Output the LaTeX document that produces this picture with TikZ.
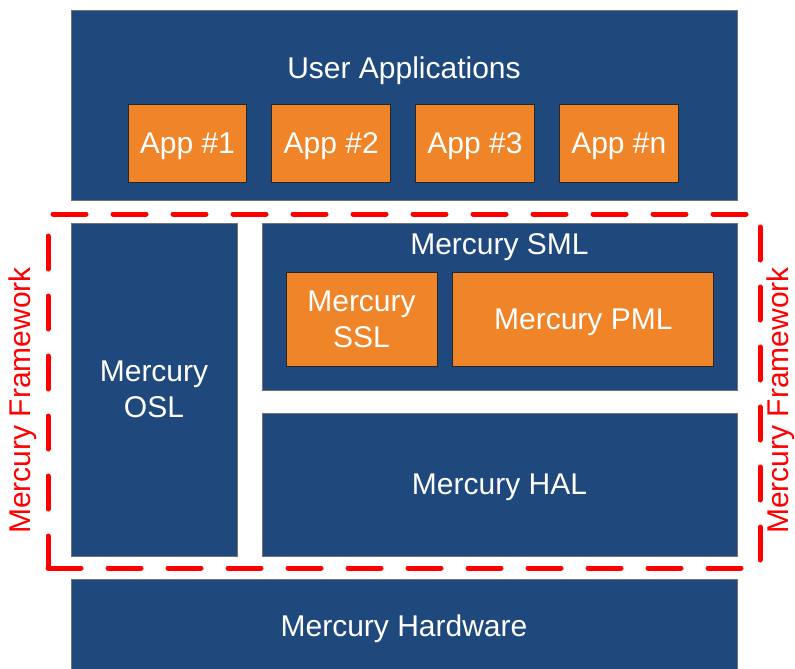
\documentclass[tikz,border=0pt]{standalone}
\usepackage{fontspec}
\setmainfont{Liberation Sans}
\usetikzlibrary{positioning}
\definecolor{navy}{RGB}{31,73,125}
\definecolor{tangerine}{RGB}{240,132,40}

\begin{document}
\begin{tikzpicture}[x=0.75pt,y=-0.75pt,% one unit is one pixel of the layout, y grows downwards
			every node/.style={
				align=center,		% so that "\\" breaks the line
				inner sep=0pt,
				font=\fontsize{22.5}{27}\selectfont
			},
			layer/.style={rectangle,draw=black!55,line width=0.6pt,fill=navy,text=white},
			module/.style={rectangle,draw=black!85,line width=0.6pt,fill=tangerine,text=white},
			oneline/.style={text depth=0pt},	% sit single lines a bit lower
			title/.style={text=white,oneline},
			border/.style={rectangle,draw=red,line width=3.75pt,line cap=round,dash pattern=on 24.75pt off 20.25pt},
			side/.style={text=red,rotate=90}
		]
		\useasboundingbox (0,0) rectangle (795,668);
		% user applications
		\node[layer,minimum width=499.5pt,minimum height=142.5pt](B1) at (404,105) {};
		\node[title](T1) at (404,68) {User Applications};
		\node[module,oneline,minimum width=89pt,minimum height=58.5pt](A1) at (187.4,143) {App \#1};
		\node[module,oneline,minimum width=89pt,minimum height=58.5pt](A2)[right=18.25pt of A1]{App \#2};
		\node[module,oneline,minimum width=89pt,minimum height=58.5pt](A3)[right=18.25pt of A2]{App \#3};
		\node[module,oneline,minimum width=89pt,minimum height=58.5pt](A4)[right=18.25pt of A3]{App \#n};
		% framework
		\node[layer,minimum width=124.5pt,minimum height=249.75pt](B2) at (154,389.5) {Mercury\\ OSL};
		\node[layer,minimum width=356.25pt,minimum height=125.25pt](B3) at (499.5,306.5) {};
		\node[title](T2) at (499.5,244) {Mercury SML};
		\node[module,minimum width=113.25pt,minimum height=70.5pt](C1) at (361.5,319) {Mercury\\ SSL};
		\node[module,oneline,minimum width=195.75pt,minimum height=70.5pt](C2)[right=11.25pt of C1]{Mercury PML};
		\node[layer,oneline,minimum width=356.25pt,minimum height=107.25pt](B4) at (499.5,484.5) {Mercury HAL};
		\node[border,minimum width=534pt,minimum height=265.5pt](F1) at (404,391) {};
		\node[side](S1) at (23,400.5) {Mercury Framework};
		\node[side](S2) at (781,400.5) {Mercury Framework};
		% hardware
		\node[layer,oneline,minimum width=499.5pt,minimum height=69.75pt](B5) at (404,625.5) {Mercury Hardware};
	\end{tikzpicture}
\end{document}
